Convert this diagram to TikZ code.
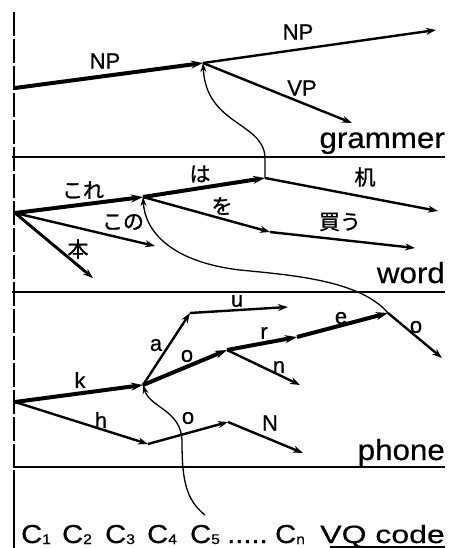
\documentclass[tikz,border=0pt]{standalone}
\usepackage{fontspec}
\setmainfont[FakeBold=0.7]{Liberation Sans}
\newfontfamily\jpfont[FakeBold=1.2]{Noto Sans CJK JP}
\newfontfamily\lvlfont[FakeStretch=1.08,FakeBold=0.5]{Liberation Sans}
\newfontfamily\vqfont[FakeStretch=1.28,FakeBold=0.5]{Liberation Sans}
\newfontfamily\cfont[FakeStretch=1.12,FakeBold=0.6]{Liberation Sans}
\usetikzlibrary{arrows.meta}
\newcommand{\csub}[1]{C{\fontsize{14}{14}\selectfont\raisebox{-1pt}{#1}}}
\begin{document}
\begin{tikzpicture}[x=1pt,y=-1pt,
  thickedge/.style={line width=4pt,-{Stealth[length=12pt,width=8pt]}},
  thinedge/.style={line width=2.4pt,-{Stealth[length=10pt,width=7pt]}},
  crosslink/.style={line width=1.3pt,-{Stealth[length=9pt,width=6pt]}},
  lab/.style={inner sep=0pt,font=\fontsize{22}{22}\selectfont},
  jlab/.style={inner sep=0pt,font=\jpfont\fontsize{21}{21}\selectfont},
  lvltext/.style={inner sep=0pt,anchor=base east,font=\lvlfont\fontsize{29}{29}\selectfont},
  ctext/.style={inner sep=0pt,anchor=base west,font=\cfont\fontsize{26}{26}\selectfont},
  sepline/.style={line width=1.4pt}]
\useasboundingbox[fill=white] (0,0) rectangle (452,548);

% frame lines
\coordinate (lt) at (14,12);
\coordinate (lm) at (14,470);
\coordinate (lb) at (14,548);
\draw[line width=1.4pt,dash pattern=on 24pt off 3pt] (lt) -- (lm);
\draw[line width=1.4pt] (lm) -- (lb);
\coordinate (gl0) at (12,157); \coordinate (gl1) at (445,157);
\coordinate (wl0) at (12,292); \coordinate (wl1) at (445,292);
\coordinate (pl0) at (14,467); \coordinate (pl1) at (445,467);
\draw[sepline] (gl0) -- (gl1);
\draw[sepline] (wl0) -- (wl1);
\draw[sepline] (pl0) -- (pl1);

% grammar level
\coordinate (g0) at (15,88);
\coordinate (g1) at (203,63);
\coordinate (g2) at (436,30);
\coordinate (g3) at (352,123);
\draw[thickedge] (g0) -- (g1);
\draw[thinedge] (g1) -- (g2);
\draw[thinedge] (g1) -- (g3);
\node[lab] (lnp1) at (105,61) {NP};
\node[lab] (lnp2) at (298,32) {NP};
\node[lab] (lvp) at (302,88) {VP};
\node[lvltext] (tgram) at (445,148) {grammer};

% word level
\coordinate (w0) at (15,213);
\coordinate (w1) at (143,197);
\coordinate (w2) at (265,178);
\coordinate (w3) at (438,211);
\coordinate (w4) at (270,232);
\coordinate (w5) at (415,248);
\coordinate (w6) at (155,246);
\coordinate (w7) at (93,278);
\draw[thickedge] (w0) -- (w1);
\draw[thickedge] (w1) -- (w2);
\draw[thinedge] (w2) -- (w3);
\draw[thinedge] (w1) -- (w4);
\draw[thinedge] (w4) -- (w5);
\draw[thinedge] (w0) -- (w6);
\draw[line width=2.9pt,-{Stealth[length=10pt,width=7pt]}] (w0) -- (w7);
\node[jlab] (lkore) at (83,190) {これ};
\node[jlab] (lwa) at (200,174) {は};
\node[jlab] (ltsukue) at (365,177) {机};
\node[jlab] (lwo) at (222,206) {を};
\node[jlab] (lkau) at (340,222) {買う};
\node[jlab] (lkono) at (123,222) {この};
\node[jlab] (lhon) at (78,249) {本};
\node[lvltext] (tword) at (445,283) {word};

% phone level
\coordinate (p0) at (15,402);
\coordinate (p1) at (143,385);
\coordinate (p2) at (148,444);
\coordinate (p3) at (228,422);
\coordinate (p4) at (303,453);
\coordinate (p5) at (190,313);
\coordinate (p6) at (288,307);
\coordinate (p7) at (227,350);
\coordinate (p8) at (297,337);
\coordinate (p9) at (388,313);
\coordinate (p10) at (300,385);
\coordinate (p11) at (442,358);
\draw[thickedge] (p0) -- (p1);
\draw[thinedge] (p0) -- (p2);
\draw[thinedge] (p2) -- (p3);
\draw[thinedge] (p3) -- (p4);
\draw[thinedge] (p1) -- (p5);
\draw[thinedge] (p5) -- (p6);
\draw[thickedge] (p1) -- (p7);
\draw[thickedge] (p7) -- (p8);
\draw[thickedge] (p8) -- (p9);
\draw[thinedge] (p7) -- (p10);
\draw[thinedge] (p9) -- (p11);
\node[lab] (lk) at (80,380) {k};
\node[lab] (lh) at (101,420) {h};
\node[lab] (lo1) at (188,418) {o};
\node[lab] (lN) at (270,423) {N};
\node[lab] (la) at (156,345) {a};
\node[lab] (lu) at (237,301) {u};
\node[lab] (lo2) at (187,356) {o};
\node[lab] (lr) at (264,333) {r};
\node[lab] (le) at (341,318) {e};
\node[lab] (ln) at (279,367) {n};
\node[lab] (lo3) at (416,327) {o};
\node[lvltext] (tphone) at (445,460) {phone};

% VQ code row
\node[ctext] (c1) at (21,543) {\csub{1}};
\node[ctext] (c2) at (62,543) {\csub{2}};
\node[ctext] (c3) at (105,543) {\csub{3}};
\node[ctext] (c4) at (147,543) {\csub{4}};
\node[ctext] (c5) at (190,543) {\csub{5}};
\node[ctext] (cdots) at (227,543) {.....};
\node[ctext] (cn) at (275,543) {\csub{n}};
\node[inner sep=0pt,anchor=base east,font=\vqfont\fontsize{25}{25}\selectfont] (vq) at (445,543) {VQ code};
\coordinate (ul0) at (330,547); \coordinate (ul1) at (445,547);
\draw[line width=1.2pt] (ul0) -- (ul1);

% cross-level links
\coordinate (vqstart) at (205,515);
\draw[crosslink] (vqstart) .. controls (186,500) and (182,480) .. (182,442)
   .. controls (182,410) and (150,408) .. (p1);
\draw[crosslink] (p9) .. controls (360,280) and (290,275) .. (240,270)
   .. controls (172,262) and (145,232) .. (w1);
\coordinate (wtop) at (265,157);
\draw[crosslink] (w2) -- (wtop) .. controls (263,122) and (206,125) .. (g1);
\end{tikzpicture}
\end{document}
